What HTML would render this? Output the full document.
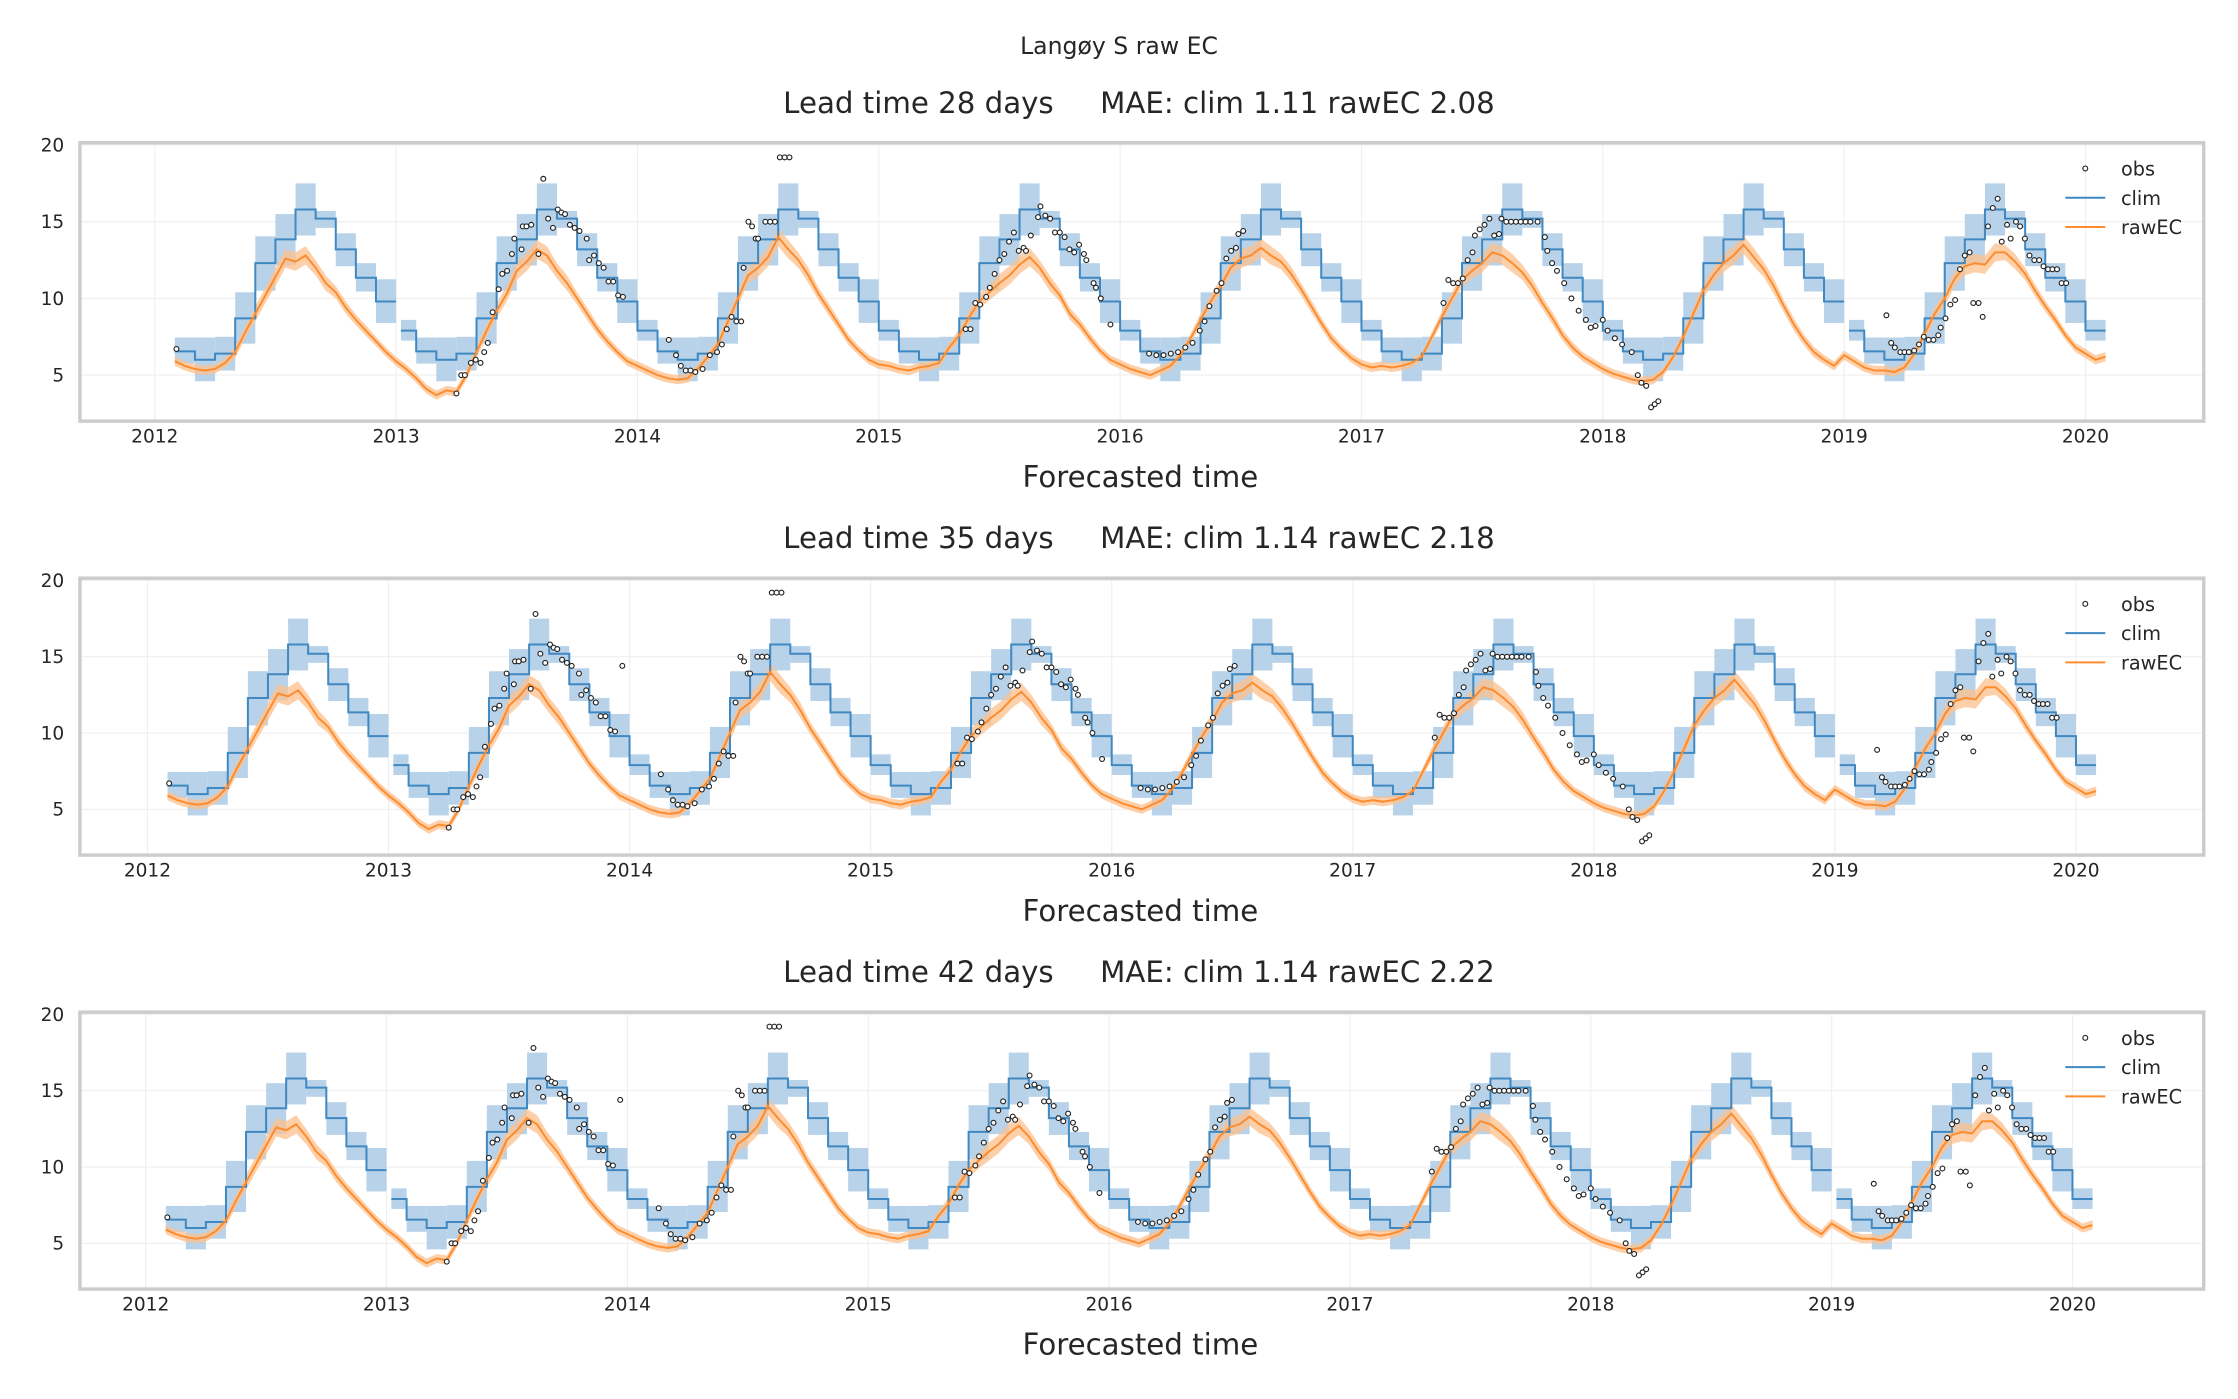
<!DOCTYPE html>
<html><head><meta charset="utf-8"><style>
html,body{margin:0;padding:0;background:#fff;}
svg{display:block;font-family:"DejaVu Sans","Liberation Sans",sans-serif;}
</style></head><body>
<svg id="chart" width="2238" height="1399" viewBox="0 0 1568 980" preserveAspectRatio="none" xmlns="http://www.w3.org/2000/svg">
<text x="784" y="38" text-anchor="middle" font-size="16.5" fill="#262626">Langøy S raw EC</text>
</svg>
<script>
// Monthly climatology (Jan..Dec)
const climMean = [7.9, 6.55, 6.0, 6.4, 8.7, 12.3, 13.85, 15.8, 15.2, 13.2, 11.35, 9.8];
const climHi   = [8.6, 7.45, 7.45, 7.5, 10.4, 14.05, 15.5, 17.5, 15.7, 14.25, 12.3, 11.25];
const climLo   = [7.25, 5.75, 4.6, 5.3, 7.05, 10.5, 12.15, 14.1, 14.6, 12.1, 10.45, 8.4];
// rawEC half-monthly values starting 1 Feb 2012
const rawEC = [
 5.9,5.6,5.4,5.3,5.4,5.8,6.5,7.8,9.0,10.2,11.4,12.6,12.4,12.8,12.0,11.0,10.4,9.4,8.6,7.9,7.2,6.5,
 5.9,5.4,4.8,4.1,3.7,4.0,3.9,5.0,6.5,7.9,9.2,10.3,11.8,12.4,13.2,12.8,11.8,11.0,10.0,9.0,8.0,7.2,6.5,5.9,
 5.6,5.3,5.0,4.8,4.7,4.8,5.4,6.2,7.0,8.5,10.0,11.5,12.0,12.7,14.0,13.2,12.5,11.5,10.3,9.3,8.3,7.3,6.6,6.0,
 5.7,5.6,5.4,5.3,5.5,5.6,5.8,6.8,7.6,8.8,9.8,10.4,11.0,11.5,12.2,12.7,12.0,11.0,10.2,9.0,8.3,7.4,6.6,6.0,
 5.7,5.4,5.2,5.0,5.3,5.6,6.3,7.4,8.6,9.8,10.8,12.0,12.6,12.8,13.3,12.8,12.4,11.6,10.6,9.5,8.4,7.4,6.7,6.1,
 5.7,5.5,5.6,5.5,5.6,5.8,6.2,7.5,8.8,10.0,11.2,11.8,12.3,13.0,12.8,12.3,11.7,10.8,9.7,8.7,7.6,6.8,6.2,5.8,
 5.4,5.1,4.9,4.7,4.6,4.7,5.2,6.2,7.5,9.0,10.5,11.5,12.3,12.8,13.5,12.7,11.9,10.8,9.5,8.3,7.3,6.5,6.0,5.6,
 6.3,5.9,5.5,5.3,5.3,5.2,5.5,6.4,7.7,9.0,10.0,11.3,12.1,12.3,12.2,13.0,13.0,12.4,11.6,10.5,9.5,8.6,7.6,6.8,
 6.4,6.0,6.2];
const rawSpread = [0.3,0.3,0.3,0.3,0.4,0.5,0.6,0.6,0.5,0.4,0.35,0.3];
// observations: [decimal year, value]
const obsT = [2012.09,
 2013.25,2013.27,2013.285,2013.31,2013.33,2013.35,2013.365,2013.38,2013.40,2013.425,2013.44,2013.46,2013.48,2013.49,2013.52,2013.525,2013.54,2013.56,2013.59,2013.61,2013.63,2013.65,2013.67,2013.685,2013.70,2013.72,2013.74,2013.76,2013.79,2013.80,2013.82,2013.84,2013.86,2013.88,2013.90,2013.92,2013.94,
 2014.13,2014.16,2014.18,2014.20,2014.22,2014.24,2014.27,2014.30,2014.33,2014.35,2014.37,2014.39,2014.41,2014.43,2014.44,2014.46,2014.475,2014.49,2014.50,2014.53,2014.55,2014.57,2014.59,2014.61,2014.63,
 2015.36,2015.38,2015.40,2015.42,2015.445,2015.46,2015.48,2015.50,2015.52,2015.54,2015.56,2015.58,2015.60,2015.61,2015.63,2015.66,2015.67,2015.69,2015.71,2015.73,2015.75,2015.77,2015.79,2015.81,2015.83,2015.85,2015.86,2015.89,2015.90,2015.92,2015.96,
 2016.12,2016.15,2016.18,2016.21,2016.24,2016.27,2016.30,2016.33,2016.35,2016.37,2016.40,2016.42,2016.44,2016.46,2016.48,2016.49,2016.51,
 2017.34,2017.36,2017.38,2017.40,2017.42,2017.44,2017.46,2017.47,2017.49,2017.51,2017.53,2017.55,2017.57,2017.58,2017.60,2017.62,2017.64,2017.66,2017.68,2017.70,2017.73,2017.76,2017.77,2017.79,2017.81,2017.84,2017.87,2017.90,2017.93,2017.95,2017.97,2018.00,2018.02,2018.05,2018.08,2018.12,2018.145,2018.16,2018.18,2018.20,2018.215,2018.23,
 2019.175,2019.195,2019.21,2019.233,2019.25,2019.268,2019.29,2019.31,2019.33,2019.35,2019.37,2019.39,2019.40,2019.42,2019.44,2019.46,2019.48,2019.50,2019.52,2019.535,2019.557,2019.574,2019.596,2019.616,2019.636,2019.653,2019.675,2019.69,2019.712,2019.729,2019.749,2019.768,2019.788,2019.808,2019.826,2019.845,2019.863,2019.882,2019.901,2019.92];
const obsV = [6.7,
 3.8,5.0,5.0,5.8,6.0,5.8,6.5,7.1,9.1,10.6,11.6,11.8,12.9,13.9,13.2,14.7,14.7,14.8,12.9,17.8,15.2,14.6,15.8,15.6,15.5,14.8,14.6,14.4,13.9,12.5,12.8,12.3,12.0,11.1,11.1,10.2,10.1,
 7.3,6.3,5.6,5.3,5.3,5.2,5.4,6.3,6.5,7.0,8.0,8.8,8.5,8.5,12.0,15.0,14.7,13.9,13.9,15.0,15.0,15.0,19.2,19.2,19.2,
 8.0,8.0,9.7,9.6,10.1,10.7,11.6,12.5,12.9,13.7,14.3,13.1,13.3,13.1,14.1,15.3,16.0,15.4,15.2,14.3,14.3,14.0,13.2,13.0,13.5,12.9,12.5,11.0,10.7,10.0,8.3,
 6.4,6.3,6.3,6.4,6.5,6.8,7.1,7.9,8.5,9.5,10.5,11.0,12.6,13.1,13.3,14.2,14.4,
 9.7,11.2,11.0,11.0,11.3,12.5,13.0,14.1,14.5,14.8,15.2,14.1,14.2,15.2,15.0,15.0,15.0,15.0,15.0,15.0,15.0,14.0,13.1,12.3,11.8,11.0,10.0,9.2,8.6,8.1,8.2,8.6,7.9,7.4,7.0,6.5,5.0,4.5,4.3,2.9,3.1,3.3,
 8.9,7.1,6.8,6.5,6.5,6.5,6.6,7.0,7.5,7.3,7.3,7.6,8.1,8.7,9.6,9.9,11.9,12.8,13.0,9.7,9.7,8.8,14.7,15.9,16.5,13.7,14.8,13.9,15.0,14.7,13.9,12.8,12.5,12.5,12.1,11.9,11.9,11.9,11.0,11.0];
const yTicks = [5, 10, 15, 20];
const xTicks = [2012, 2013, 2014, 2015, 2016, 2017, 2018, 2019, 2020];
const leadTimes = ["28", "35", "42"];
const maeClim = ["1.11", "1.14", "1.14"];
const maeRaw = ["2.08", "2.18", "2.22"];

const NS = "http://www.w3.org/2000/svg";
const svg = document.getElementById('chart');
function mk(tag, attrs, parent) {
  const e = document.createElementNS(NS, tag);
  for (const k in attrs) e.setAttribute(k, attrs[k]);
  (parent || svg).appendChild(e);
  return e;
}
const panels = [
  {top: 100, bottom: 295, left: 56, right: 1544, xmin: 2011.69, xmax: 2020.49},
  {top: 405, bottom: 599, left: 56, right: 1544, xmin: 2011.72, xmax: 2020.53},
  {top: 709, bottom: 903, left: 56, right: 1544, xmin: 2011.727, xmax: 2020.545}
];
const YMIN = 2.0, YMAX = 20.15;
const gapStarts = {2013: 0.02, 2019: 0.02};

panels.forEach((p, pi) => {
  const g = mk('g', {});
  
  
  const X = t => p.left + (t - p.xmin) / (p.xmax - p.xmin) * (p.right - p.left);
  const Y = v => p.bottom - (v - YMIN) / (YMAX - YMIN) * (p.bottom - p.top);
  const tt = mk('text', {x: 798, y: p.top - 21, 'text-anchor': 'middle', 'font-size': 20.5, fill: '#262626', 'xml:space': 'preserve'}, g);
  
  
  tt.style.whiteSpace = 'pre';
  tt.textContent = 'Lead time ' + leadTimes[pi] + ' days     MAE: clim ' + maeClim[pi] + ' rawEC ' + maeRaw[pi];
  yTicks.forEach(v => {
    const l = mk('line', {x1: p.left, x2: p.right, y1: Y(v), y2: Y(v), stroke: '#efefef', 'stroke-width': 0.8}, g);
    
    
    const t = mk('text', {x: p.left - 11, y: Y(v) + 4.5, 'text-anchor': 'end', 'font-size': 13, fill: '#262626'}, g);
    
    
    t.textContent = v;
  });
  xTicks.forEach(v => {
    const l = mk('line', {x1: X(v), x2: X(v), y1: p.top, y2: p.bottom, stroke: '#efefef', 'stroke-width': 0.8}, g);
    
    
    const t = mk('text', {x: X(v), y: p.bottom + 15, 'text-anchor': 'middle', 'font-size': 13, fill: '#262626'}, g);
    
    
    t.textContent = v;
  });
  let d = '', prevEnd = null;
  for (let yr = 2012; yr <= 2020; yr++) {
    for (let m = 0; m < 12; m++) {
      if (yr === 2012 && m === 0) continue;
      if (yr === 2020 && m > 0) break;
      let t0 = yr + m / 12;
      if (m === 0 && gapStarts[yr]) t0 += gapStarts[yr];
      const t1 = yr + (m + 1) / 12;
      const band = mk('rect', {x: X(t0), y: Y(climHi[m]), width: X(t1) - X(t0), height: Y(climLo[m]) - Y(climHi[m]), fill: '#a6c8e3', 'fill-opacity': 0.8}, g);
      
      
      const y = Y(climMean[m]);
      if (prevEnd !== null && Math.abs(prevEnd - t0) < 1e-6) d += ' L' + X(t0).toFixed(2) + ',' + y.toFixed(2);
      else d += ' M' + X(t0).toFixed(2) + ',' + y.toFixed(2);
      d += ' L' + X(t1).toFixed(2) + ',' + y.toFixed(2);
      prevEnd = (yr === 2012 && m === 11) || (yr === 2018 && m === 11) ? -1 : t1;
    }
  }
  let up = [], dn = [], ln = [];
  rawEC.forEach((v, i) => {
    const t = 2012 + (i + 2) / 24;
    const m = Math.floor(((i + 2) % 24) / 2);
    up.push(X(t).toFixed(2) + ',' + Y(v + rawSpread[m]).toFixed(2));
    dn.unshift(X(t).toFixed(2) + ',' + Y(v - rawSpread[m]).toFixed(2));
    ln.push(X(t).toFixed(2) + ',' + Y(v).toFixed(2));
  });
  const rb = mk('polygon', {points: up.concat(dn).join(' '), fill: '#fdc08c', 'fill-opacity': 0.75}, g);
  
  
  const cl = mk('path', {d: d, fill: 'none', stroke: '#3f88c1', 'stroke-width': 1.4}, g);
  
  
  const rl = mk('polyline', {points: ln.join(' '), fill: 'none', stroke: '#fd8c2e', 'stroke-width': 1.4}, g);
  
  
  const ts = obsT.slice(), vs = obsV.slice();
  if (pi > 0) { ts.push(2013.97); vs.push(14.4); }
  ts.forEach((t, i) => {
    const c = mk('circle', {cx: X(t), cy: Y(vs[i]), r: 1.7, fill: '#fff', stroke: '#222', 'stroke-width': 0.8}, g);
    
    
  });
  const fr = mk('rect', {x: p.left, y: p.top, width: p.right - p.left, height: p.bottom - p.top, fill: 'none', stroke: '#cccccc', 'stroke-width': 2.4}, g);
  
  
  const xl = mk('text', {x: 799, y: p.bottom + 46, 'text-anchor': 'middle', 'font-size': 20.5, fill: '#262626'}, g);
  
  
  xl.textContent = 'Forecasted time';
  const lg = mk('g', {}, g);
  
  
  const ly = p.top + 18;
  const oc = mk('circle', {cx: 1461, cy: ly, r: 1.7, fill: '#fff', stroke: '#222', 'stroke-width': 0.8}, lg);
  
  
  const l1 = mk('line', {x1: 1447, x2: 1475, y1: ly + 20.5, y2: ly + 20.5, stroke: '#3f88c1', 'stroke-width': 1.4}, lg);
  
  
  const l2 = mk('line', {x1: 1447, x2: 1475, y1: ly + 41, y2: ly + 41, stroke: '#fd8c2e', 'stroke-width': 1.4}, lg);
  
  
  ['obs', 'clim', 'rawEC'].forEach((s, k) => {
    const t = mk('text', {x: 1486, y: ly + 5 + k * 20.5, 'font-size': 13.5, fill: '#262626'}, lg);
    
    
    t.textContent = s;
  });
});
</script>
</body></html>
